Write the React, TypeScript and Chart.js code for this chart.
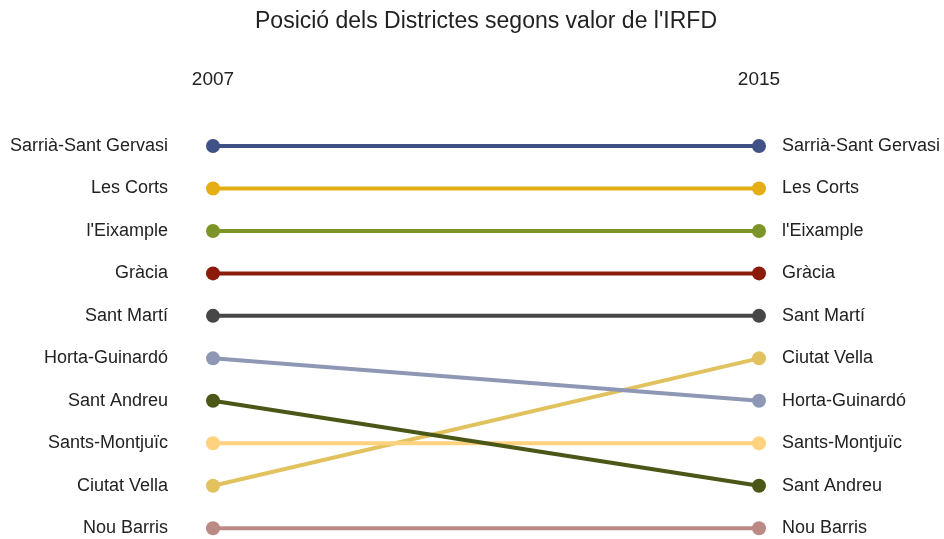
import React, { useEffect, useRef } from "react";
import { Chart, registerables } from "chart.js";

Chart.register(...registerables);

const districts = [
  "Sarrià-Sant Gervasi",
  "Les Corts",
  "l'Eixample",
  "Gràcia",
  "Sant Martí",
  "Horta-Guinardó",
  "Sant Andreu",
  "Sants-Montjuïc",
  "Ciutat Vella",
  "Nou Barris",
];
const years = [2007, 2015];
const rank2007 = [1, 2, 3, 4, 5, 6, 7, 8, 9, 10];
const rank2015 = [1, 2, 3, 4, 5, 7, 9, 8, 6, 10];
const colors = [
  "#3F5185",
  "#E5AE14",
  "#7D9428",
  "#8B1A0A",
  "#474747",
  "#8E98B5",
  "#4A5716",
  "#FFD27F",
  "#E2C25E",
  "#BC8A85",
];
const titleText = "Posició dels Districtes segons valor de l'IRFD";

const FONT = "'Liberation Sans', Arial, sans-serif";

export default function App() {
  const ref = useRef<HTMLCanvasElement>(null);
  useEffect(() => {
    if (!ref.current) return;
    const nameAt = (ranks: number[], r: number) => {
      const i = ranks.indexOf(r);
      return i >= 0 ? districts[i] : "";
    };
    const rankTicks = (scale: any) => {
      scale.ticks = rank2007.map((r) => ({ value: r }));
    };
    const chart = new Chart(ref.current, {
      type: "line",
      data: {
        datasets: districts.map((d, i) => ({
          label: d,
          data: [
            { x: years[0], y: rank2007[i] },
            { x: years[1], y: rank2015[i] },
          ],
          borderColor: colors[i],
          backgroundColor: colors[i],
          pointBackgroundColor: colors[i],
          pointBorderColor: colors[i],
          borderWidth: 4,
          pointRadius: 7,
          pointBorderWidth: 0,
          clip: false as any,
          yAxisID: "y",
        })),
      },
      options: {
        animation: false,
        responsive: true,
        maintainAspectRatio: false,
        layout: { padding: { top: 0, left: 0, right: 0, bottom: 5 } },
        plugins: {
          legend: { display: false },
          tooltip: { enabled: false },
          title: {
            display: true,
            fullSize: false,
            text: titleText,
            color: "#222",
            font: { family: FONT, size: 23, weight: "normal" },
            padding: { top: 8, bottom: 6 },
          },
        },
        scales: {
          x: {
            type: "linear",
            position: "top",
            min: years[0],
            max: years[1],
            afterBuildTicks: (scale: any) => {
              scale.ticks = years.map((v) => ({ value: v }));
            },
            afterFit: (scale: any) => {
              scale.height = 146 - 41.6;
            },
            grid: { display: false, drawTicks: true, tickLength: 55 },
            border: { display: false },
            ticks: {
              color: "#222",
              font: { family: FONT, size: 19 },
              padding: 0,
              maxRotation: 0,
              autoSkip: false,
              callback: (v: any) => String(v),
            },
          },
          y: {
            type: "linear",
            position: "left",
            reverse: true,
            min: 1,
            max: 10,
            afterBuildTicks: rankTicks,
            afterFit: (scale: any) => {
              scale.width = 213;
            },
            grid: { display: false, drawTicks: true, tickLength: 45 },
            border: { display: false },
            ticks: {
              color: "#222",
              font: { family: FONT, size: 18 },
              padding: 0,
              autoSkip: false,
              callback: (v: any) => nameAt(rank2007, Number(v)),
            },
          },
          y2: {
            type: "linear",
            position: "right",
            reverse: true,
            min: 1,
            max: 10,
            afterBuildTicks: rankTicks,
            afterFit: (scale: any) => {
              scale.width = 944 - 759;
            },
            grid: { display: false, drawTicks: true, tickLength: 23 },
            border: { display: false },
            ticks: {
              color: "#222",
              font: { family: FONT, size: 18 },
              padding: 0,
              autoSkip: false,
              callback: (v: any) => nameAt(rank2015, Number(v)),
            },
          },
        },
      } as any,
    });
    return () => chart.destroy();
  }, []);
  return (
    <div style={{ position: "fixed", left: 0, top: 0, width: 944, height: 539, background: "#fff" }}>
      <canvas ref={ref} />
    </div>
  );
}
